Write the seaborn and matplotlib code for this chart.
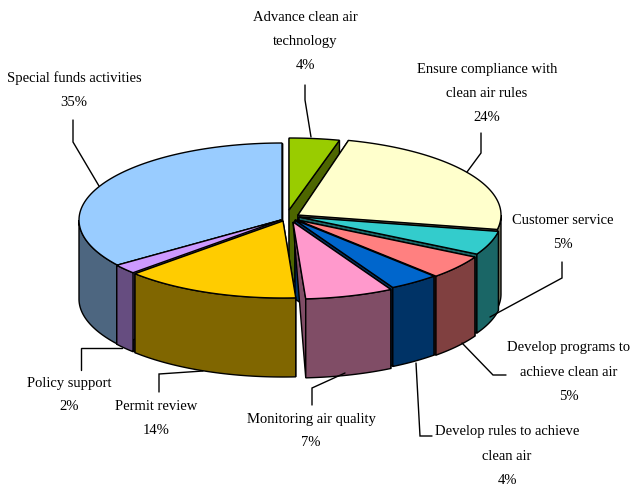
#!/usr/bin/env python3
import numpy as np
import pandas as pd
import matplotlib
matplotlib.use("Agg")
import matplotlib.pyplot as plt
import seaborn as sns

# Chart data
categories = ["Advance clean air\ntechnology", "Ensure compliance with\nclean air rules",
              "Customer service", "Develop programs to\nachieve clean air",
              "Develop rules to achieve\nclean air", "Monitoring air quality",
              "Permit review", "Policy support", "Special funds activities"]
shares = [4, 24, 5, 5, 4, 7, 14, 2, 35]
top_colors = ["#99CC00", "#FFFFCC", "#33CCCC", "#FF8080", "#0066CC",
              "#FF99CC", "#FFCC00", "#CC99FF", "#99CCFF"]

df = pd.DataFrame({"category": categories, "share": shares, "color": top_colors})
df["stop"] = 90 - df["share"].cumsum() * 3.6
df["start"] = df["stop"] + df["share"] * 3.6

# Layout, in pixels of the 634x499 canvas
RX, RY, DEPTH = 203, 77, 79
tips = [(289, 210), (298, 215), (299, 217), (297, 220), (295, 220),
        (293, 222), (283, 221), (281, 220), (282, 220)]
ry_by_slice = {0: 72}
draw_order = [0, 8, 1, 2, 3, 4, 7, 6, 5]
label_pos = [(305, 41), (487, 93), (563, 233), (569, 372), (507, 456),
             (311, 431), (156, 419), (69, 395), (74, 90)]
leaders = [[(305, 85), (305, 100), (311, 137)],
           [(481, 133), (481, 153), (467, 172)],
           [(562, 262), (562, 278), (490, 317)],
           [(462, 343), (493, 375), (506, 375)],
           [(416, 363), (420, 436), (432, 436)],
           [(345, 373), (312, 388), (312, 405)],
           [(203, 371), (159, 374), (159, 392)],
           [(122, 348), (81, 348), (81, 370)],
           [(73, 120), (73, 142), (99, 186)]]

sns.set_theme(style="white")
plt.rcParams["font.family"] = ["Liberation Serif", "DejaVu Serif"]

fig = plt.figure(figsize=(6.34, 4.99), dpi=100)
ax = fig.add_axes([0, 0, 1, 1])
ax.set_xlim(0, 634)
ax.set_ylim(499, 0)
ax.axis("off")


def rim(tip, ry, a0, a1, n=80):
    t = np.radians(np.linspace(a0, a1, n))
    return np.column_stack([tip[0] + RX * np.cos(t), tip[1] - ry * np.sin(t)])


for i in draw_order:
    row = df.iloc[i]
    tip = tips[i]
    ry = ry_by_slice.get(i, RY)
    side = tuple(c * 0.5 for c in sns.color_palette([row["color"]])[0])
    tip_xy = np.array(tip, dtype=float)
    down = np.array([0, DEPTH])

    # cut faces first, the solid covers whichever ones face away
    for ang in (row["start"], row["stop"]):
        corner = rim(tip, ry, ang, ang, 1)[0]
        if i == 5:
            face = [tip_xy, corner, corner + down]
        else:
            face = [tip_xy, corner, corner + down, tip_xy + down]
        ax.fill(*zip(*face), fc=side, ec="black", lw=1)

    # outer wall, lower half of the ellipse only
    hi, lo = min(row["start"], 0), max(row["stop"], -180)
    if hi > lo:
        arc = rim(tip, ry, hi, lo)
        wall = np.vstack([arc, (arc + down)[::-1]])
        ax.fill(wall[:, 0], wall[:, 1], fc=side, ec="black", lw=1)

    # top of the slice
    top = np.vstack([tip_xy, rim(tip, ry, row["start"], row["stop"])])
    ax.fill(top[:, 0], top[:, 1], fc=row["color"], ec="black", lw=1)

for pts in leaders:
    ax.plot(*zip(*pts), color="black", lw=1, solid_joinstyle="miter")

for i, row in df.iterrows():
    x, y = label_pos[i]
    ax.text(x, y, f"{row['category']}\n{row['share']}%", ha="center", va="center",
            fontsize=10.5, color="black", linespacing=2.1)

fig.savefig("out.png", dpi=100, facecolor="white")
